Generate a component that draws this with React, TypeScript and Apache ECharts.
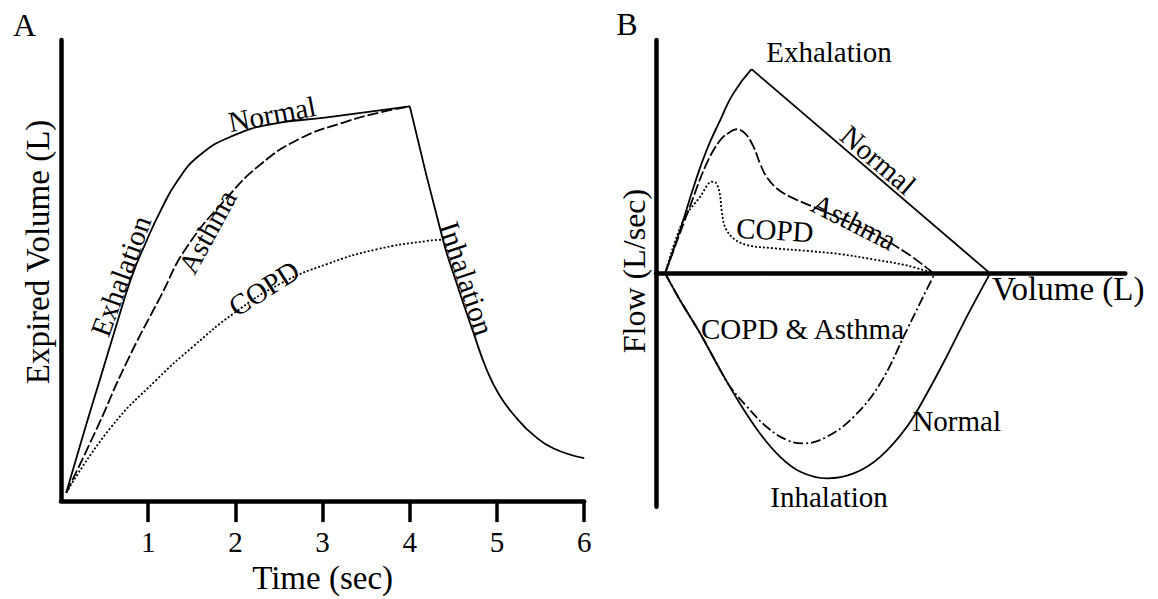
import React, { useEffect, useRef } from "react";
import * as echarts from "echarts";

// Panel A: time (s) vs expired volume
const timeTicks = [1, 2, 3, 4, 5, 6];
const normalExhaleA = [[0.06, 0.18], [0.275, 1.57], [0.447, 2.64], [0.62, 3.72], [0.81, 4.86], [0.98, 5.64], [1.14, 6.29], [1.33, 6.93], [1.59, 7.5], [1.98, 7.93], [2.43, 8.18], [3.05, 8.32], [4.0, 8.56]];
const asthmaA = [[0.06, 0.18], [0.41, 1.57], [0.75, 3.0], [1.14, 4.43], [1.44, 5.5], [1.9, 6.57], [2.28, 7.29], [2.74, 7.86], [3.24, 8.21], [3.66, 8.43], [4.0, 8.56]];
const copdA = [[0.06, 0.18], [0.56, 1.57], [1.1, 2.64], [1.52, 3.36], [1.98, 4.07], [2.51, 4.71], [3.05, 5.14], [3.62, 5.46], [4.19, 5.64], [4.38, 5.67]];
const inhaleA = [[4.0, 8.56], [4.38, 5.67], [4.54, 4.71], [4.73, 3.65], [4.88, 2.86], [5.03, 2.29], [5.23, 1.79], [5.42, 1.43], [5.65, 1.14], [6.0, 0.93]];

// Panel B: volume vs flow
const normalRiseB = [[0, 0], [0.23, 1.48], [0.44, 2.97], [0.64, 4.23], [0.85, 5.26], [1.05, 6.17], [1.33, 7.0]];
const normalFallB = [[1.33, 7.0], [5.0, 0]];
const asthmaB = [[0, 0], [0.38, 2.28], [0.64, 3.77], [0.85, 4.57], [1.0, 4.85], [1.1, 4.94], [1.23, 4.8], [1.36, 4.34], [1.46, 3.77], [1.56, 3.31], [1.72, 2.91], [1.92, 2.63], [2.28, 2.28], [2.69, 1.89], [3.2, 1.37], [3.72, 0.69], [4.13, 0]];
const copdB = [[0, 0], [0.28, 1.83], [0.54, 2.63], [0.72, 3.14], [0.78, 3.11], [0.84, 2.74], [0.87, 2.17], [0.92, 1.6], [1.05, 1.2], [1.26, 0.97], [1.67, 0.86], [2.18, 0.77], [2.69, 0.66], [3.2, 0.48], [3.72, 0.27], [4.13, 0]];
const normalInhaleB = [[0, 0], [0.23, -0.92], [0.54, -2.06], [0.85, -3.32], [1.15, -4.46], [1.46, -5.49], [1.77, -6.29], [2.08, -6.8], [2.49, -7.03], [2.9, -6.86], [3.31, -6.29], [3.72, -5.26], [4.03, -4.11], [4.33, -2.86], [4.64, -1.49], [5.0, 0]];
const obstructiveInhaleB = [[0, 0], [0.23, -0.92], [0.54, -2.06], [0.85, -3.32], [1.0, -3.89], [1.26, -4.57], [1.56, -5.26], [1.87, -5.71], [2.13, -5.83], [2.49, -5.6], [2.9, -4.92], [3.31, -3.77], [3.72, -1.94], [3.97, -0.8], [4.15, 0]];

const FONT = "Liberation Serif";

export default function App() {
  const ref = useRef<HTMLDivElement>(null);
  useEffect(() => {
    if (!ref.current) return;
    const chart = echarts.init(ref.current, null, { renderer: "svg" });
    const axisLineStyle = { color: "#000", width: 4.5 };
    const line = (name: string, data: number[][], gi: number, type: any, smooth: number | false = 0.5) => ({
      type: "line",
      name,
      data,
      xAxisIndex: gi,
      yAxisIndex: gi,
      showSymbol: false,
      symbol: "none",
      smooth,
      clip: false,
      silent: true,
      lineStyle: { color: "#000", width: 1.8, type },
    });
    const label = (text: string, x: number, y: number, size: number, rot: number = 0, align: string = "center") => ({
      type: "text",
      x,
      y,
      rotation: rot,
      silent: true,
      style: {
        text,
        fontSize: size,
        fontFamily: FONT,
        fill: "#000",
        align,
        verticalAlign: "middle",
        textAlign: align,
        textVerticalAlign: "middle",
      },
    });
    chart.setOption({
      animation: false,
      backgroundColor: "#fff",
      grid: [
        { left: 61, top: 40, width: 523.2, height: 466.7 },
        { left: 656, top: 40, width: 469.3, height: 466.7 },
      ],
      xAxis: [
        {
          gridIndex: 0,
          type: "value",
          min: 0,
          max: 6,
          interval: 1,
          axisLine: { show: true, onZero: false, lineStyle: axisLineStyle },
          axisTick: { show: true, customValues: timeTicks, length: 21, lineStyle: { color: "#000", width: 3.5 } },
          axisLabel: { customValues: timeTicks, margin: 26, fontSize: 29, fontFamily: FONT, color: "#000" },
          splitLine: { show: false },
          name: "Time (sec)",
          nameLocation: "middle",
          nameGap: 52,
          nameTextStyle: { fontSize: 33, fontFamily: FONT, color: "#000" },
        },
        {
          gridIndex: 1,
          type: "value",
          min: -0.14,
          max: 7.08,
          axisLine: { show: true, onZero: true, lineStyle: axisLineStyle },
          axisTick: { show: false },
          axisLabel: { show: false },
          splitLine: { show: false },
        },
      ],
      yAxis: [
        {
          gridIndex: 0,
          type: "value",
          min: 0,
          max: 10,
          axisLine: { show: true, onZero: false, lineStyle: axisLineStyle },
          axisTick: { show: false },
          axisLabel: { show: false },
          splitLine: { show: false },
        },
        {
          gridIndex: 1,
          type: "value",
          min: -8,
          max: 8,
          axisLine: { show: true, onZero: false, lineStyle: axisLineStyle },
          axisTick: { show: false },
          axisLabel: { show: false },
          splitLine: { show: false },
        },
      ],
      series: [
        line("Normal", normalExhaleA, 0, "solid"),
        line("Asthma", asthmaA, 0, [11, 3]),
        line("COPD", copdA, 0, [2, 2]),
        line("Inhalation", inhaleA, 0, "solid"),
        line("Normal exhalation", normalRiseB, 1, "solid"),
        line("Normal exhalation fall", normalFallB, 1, "solid", false),
        line("Asthma", asthmaB, 1, [11, 3], 0.4),
        line("COPD", copdB, 1, [2, 2], 0.35),
        line("Normal inhalation", normalInhaleB, 1, "solid", 0.35),
        line("COPD & Asthma", obstructiveInhaleB, 1, [10, 3, 2, 3], 0.4),
      ],
      graphic: [
        label("A", 24.5, 25, 32),
        label("Expired Volume (L)", 37.5, 252, 33, Math.PI / 2),
        label("Normal", 272, 114, 29, 0.19),
        label("Exhalation", 120.7, 276, 29, 1.22),
        label("Asthma", 207.3, 231.7, 29, 1.07),
        label("COPD", 264, 288.3, 29, 0.57),
        label("Inhalation", 466.7, 278.3, 29, -1.25),
        label("B", 627, 24, 32),
        label("Flow (L/sec)", 634, 271, 32, Math.PI / 2),
        label("Exhalation", 829, 51.5, 29),
        label("Normal", 878.3, 160, 29, -0.707),
        label("Asthma", 854, 221.7, 29, -0.47),
        label("COPD", 775, 230, 29, -0.06),
        label("COPD & Asthma", 802.5, 329, 29),
        label("Normal", 956.7, 421, 29),
        label("Inhalation", 829, 496.5, 29),
        label("Volume (L)", 992, 289, 33, 0, "left"),
      ],
    });
    return () => chart.dispose();
  }, []);
  return (
    <div
      ref={ref}
      style={{ position: "fixed", left: 0, top: 0, width: 1158, height: 599, background: "#fff" }}
    />
  );
}
